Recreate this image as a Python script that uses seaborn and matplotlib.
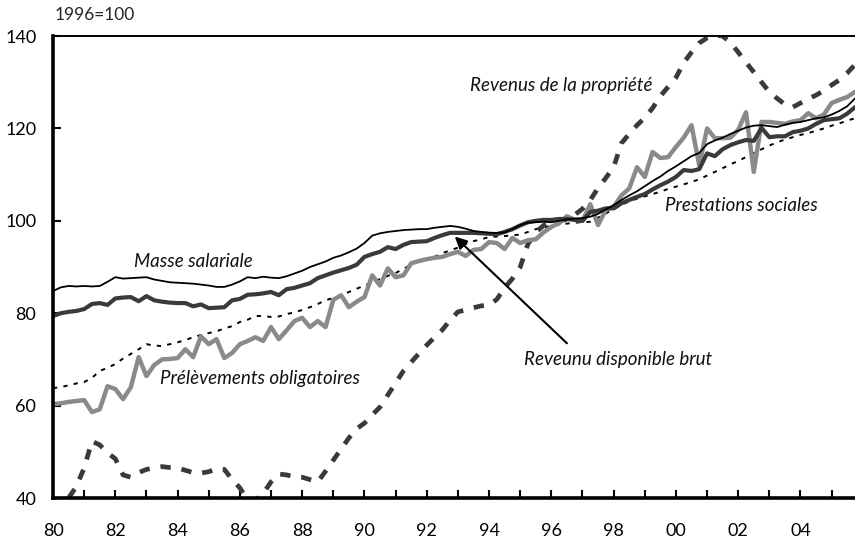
import numpy as np
import pandas as pd
import seaborn as sns
import matplotlib.pyplot as plt

# quarterly data 1980Q1 - 2005Q4, index 1996=100
quarters = np.arange(1980, 2006, 0.25)

masse_salariale = [
    84.8, 85.6, 85.9, 85.8,  85.9, 85.8, 85.9, 86.8,  87.8, 87.5, 87.6, 87.7,
    87.8, 87.3, 87.0, 86.7,  86.6, 86.5, 86.4, 86.2,  86.0, 85.7, 85.7, 86.2,
    86.9, 87.8, 87.6, 87.9,  87.7, 87.6, 88.0, 88.6,  89.2, 90.0, 90.6, 91.2,
    92.0, 92.5, 93.2, 94.0,  95.2, 96.8, 97.3, 97.6,  97.8, 98.0, 98.1, 98.2,
    98.2, 98.5, 98.7, 98.9,  98.7, 98.3, 97.8, 97.6,  97.4, 97.4, 97.5, 98.2,
    99.1, 99.6, 99.7, 99.8,  99.7, 100.0, 100.3, 100.5,  100.6, 100.9, 101.5, 102.5,
    103.4, 104.5, 105.5, 106.4,  107.5, 108.6, 109.6, 110.8,  111.8, 112.9, 114.0, 114.7,
    116.6, 117.4, 118.0, 118.8,  119.5, 120.2, 120.6, 120.7,  120.5, 120.3, 120.8, 121.2,
    121.4, 121.8, 122.2, 122.4,  123.0, 123.8, 124.8, 126.5,
]

revenu_disponible = [
    79.4, 80.0, 80.3, 80.5,  80.9, 82.0, 82.2, 81.8,  83.2, 83.4, 83.5, 82.6,
    83.7, 82.8, 82.5, 82.3,  82.2, 82.2, 81.5, 81.9,  81.1, 81.2, 81.3, 82.8,
    83.1, 84.0, 84.1, 84.3,  84.6, 83.9, 85.2, 85.5,  86.0, 86.5, 87.6, 88.2,
    88.8, 89.3, 89.8, 90.5,  92.2, 92.8, 93.3, 94.3,  93.9, 94.8, 95.4, 95.5,
    95.6, 96.3, 96.9, 97.4,  97.4, 97.4, 97.4, 97.3,  97.2, 97.1, 97.6, 98.2,
    99.0, 99.7, 100.0, 100.2,  100.2, 100.4, 100.4, 100.2,  100.0, 101.9, 102.2, 102.7,
    102.7, 103.8, 104.5, 105.2,  105.8, 106.8, 107.7, 108.5,  109.5, 111.0, 110.8, 111.2,
    114.6, 114.0, 115.5, 116.4,  117.0, 117.5, 117.3, 120.1,  118.1, 118.3, 118.3, 119.2,
    119.5, 120.0, 121.0, 121.8,  122.0, 122.2, 123.2, 124.6,
]

prelevements = [
    60.3, 60.5, 60.8, 61.0,  61.2, 58.6, 59.2, 64.2,  63.6, 61.4, 64.0, 70.5,
    66.4, 68.8, 70.0, 70.1,  70.3, 72.2, 70.5, 75.0,  73.3, 74.4, 70.3, 71.4,
    73.3, 74.0, 74.8, 74.0,  77.0, 74.4, 76.3, 78.3,  79.0, 77.0, 78.3, 77.0,
    82.9, 83.9, 81.3, 82.5,  83.5, 88.2, 86.0, 89.7,  87.8, 88.2, 90.8, 91.3,
    91.7, 92.0, 92.2, 92.8,  93.3, 92.4, 93.7, 93.9,  95.4, 95.2, 93.9, 96.3,
    95.2, 95.8, 96.0, 97.5,  98.7, 99.5, 101.0, 100.2,  100.0, 103.6, 99.1, 102.4,
    103.0, 105.5, 107.0, 111.6,  109.5, 114.9, 113.6, 113.8,  116.0, 118.0, 120.7, 112.0,
    120.0, 117.9, 117.9, 118.0,  119.7, 123.5, 110.6, 121.4,  121.4, 121.2, 121.0, 121.5,
    121.8, 123.3, 122.2, 123.0,  125.5, 126.2, 126.8, 127.9,
]

prestations = [
    63.8, 64.0, 64.4, 64.8,  65.1, 66.0, 67.5, 68.2,  69.0, 70.2, 71.2, 72.2,
    73.3, 73.0, 72.9, 73.3,  73.7, 74.2, 74.8, 75.3,  75.7, 76.1, 76.7, 77.2,
    78.1, 78.6, 79.4, 79.4,  79.2, 79.3, 79.8, 80.2,  80.7, 81.3, 82.0, 82.8,
    83.3, 83.8, 84.6, 85.3,  86.0, 86.7, 87.4, 88.1,  88.7, 89.6, 90.5, 91.3,
    91.7, 92.2, 93.0, 93.6,  94.2, 95.0, 95.6, 96.0,  96.5, 96.6, 96.7, 96.9,
    97.0, 97.6, 98.2, 98.6,  98.9, 99.2, 99.4, 99.6,  99.7, 99.8, 100.7, 101.6,
    102.5, 103.5, 104.2, 104.8,  105.3, 105.8, 106.3, 106.9,  107.4, 107.9, 108.4, 109.0,
    109.8, 110.6, 111.4, 112.2,  113.0, 113.8, 114.7, 115.5,  116.3, 117.0, 117.6, 118.1,
    118.6, 119.0, 119.5, 120.0,  120.6, 121.1, 121.7, 122.2,
]

revenus_propriete = [
    37.0, 38.5, 40.0, 42.5,  46.5, 52.3, 51.5, 49.8,  48.5, 45.0, 44.5, 45.5,
    46.2, 46.5, 46.8, 46.6,  46.5, 46.0, 45.5, 45.4,  45.7, 46.3, 46.2, 44.0,
    42.2, 39.5, 39.5, 41.0,  43.5, 45.2, 45.0, 44.6,  44.5, 44.0, 43.5, 45.8,
    48.2, 50.6, 53.0, 55.0,  56.2, 58.0, 59.7, 62.3,  64.9, 67.5, 69.4, 71.3,
    73.1, 74.8, 76.4, 78.5,  80.3, 80.7, 81.2, 81.6,  81.8, 83.0, 85.5, 87.5,
    90.0, 95.0, 97.5, 99.0,  99.8, 100.0, 100.3, 101.3,  102.6, 104.5, 107.1, 109.3,
    111.6, 116.8, 118.8, 120.7,  122.3, 124.4, 127.0, 129.0,  131.0, 134.2, 136.5, 138.5,
    139.6, 140.2, 140.0, 138.6,  136.5, 134.3, 132.2, 130.0,  127.9, 126.5, 125.2, 124.6,
    125.5, 126.4, 127.2, 128.2,  129.4, 130.5, 132.0, 133.8,
]

year_ticks = [1980, 1982, 1984, 1986, 1988, 1990, 1992, 1994, 1996, 1998, 2000, 2002, 2004]
year_labels = ["80", "82", "84", "86", "88", "90", "92", "94", "96", "98", "00", "02", "04"]

df = pd.DataFrame({
    "date": quarters,
    "masse": masse_salariale,
    "rdb": revenu_disponible,
    "po": prelevements,
    "ps": prestations,
    "rp": revenus_propriete,
})

sns.set_theme(style="ticks")
plt.rcParams["font.family"] = ["Lato", "DejaVu Sans"]

fig = plt.figure(figsize=(8.55, 5.38), dpi=100)
ax = fig.add_axes([0.062, 0.0743, 0.938, 0.8587])

sns.lineplot(data=df, x="date", y="ps", ax=ax, color="black", lw=1.4,
             linestyle=(0, (2.2, 3.2)))
sns.lineplot(data=df, x="date", y="rp", ax=ax, color="#3a3a3a", lw=3.4,
             linestyle=(0, (2.2, 2.3)))
sns.lineplot(data=df, x="date", y="po", ax=ax, color="#8a8a8a", lw=3.2)
sns.lineplot(data=df, x="date", y="rdb", ax=ax, color="#3a3a3a", lw=3.0)
sns.lineplot(data=df, x="date", y="masse", ax=ax, color="black", lw=1.3)

ax.set_xlim(1980, 2005.75)
ax.set_ylim(40, 140)
ax.set_xlabel("")
ax.set_ylabel("")

ax.set_xticks(year_ticks)
ax.set_xticklabels(year_labels)
ax.set_xticks(np.arange(1981, 2006, 2), minor=True)
ax.set_yticks([40, 60, 80, 100, 120, 140])

ax.tick_params(axis="x", which="both", direction="in", length=6, width=1.5,
               pad=18, labelsize=13, colors="black")
ax.tick_params(axis="y", direction="in", length=6, width=1.5, pad=12,
               labelsize=13, colors="black")

for side in ["left", "bottom"]:
    ax.spines[side].set_linewidth(2.6)
    ax.spines[side].set_color("black")
ax.spines["top"].set_linewidth(1.4)
ax.spines["top"].set_color("black")
ax.spines["right"].set_visible(False)

fig.text(55 / 855, 1 - 15 / 538, "1996=100", fontsize=12.5, ha="left", va="center")

lab = dict(fontsize=13.5, style="italic", va="center", ha="left", color="#111111")
ax.text(1982.6, 91.1, "Masse salariale", **lab)
ax.text(1983.45, 65.8, "Prélèvements obligatoires", **lab)
ax.text(1993.4, 129.2, "Revenus de la propriété", **lab)
ax.text(1999.65, 103.4, "Prestations sociales", **lab)
ax.text(1995.13, 69.9, "Reveunu disponible brut", **lab)

ax.annotate("", xy=(1992.9, 96.6), xytext=(1996.5, 73.5),
            arrowprops=dict(arrowstyle="-|>", color="black", lw=1.5,
                            mutation_scale=18, shrinkA=0, shrinkB=0))

fig.savefig("out.png", dpi=100)
